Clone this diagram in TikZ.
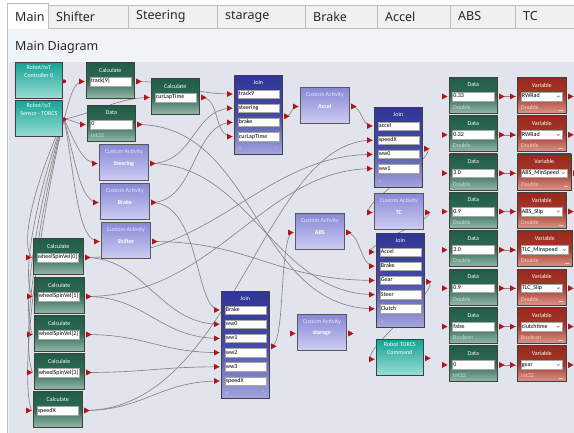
\documentclass[tikz,border=0pt]{standalone}
\usepackage{fontspec}
\setmainfont{Noto Sans}
\newfontfamily\blockfont{Carlito}
\usetikzlibrary{calc}

\definecolor{canvas}{HTML}{E1E4ED}
\definecolor{panel}{HTML}{F0F4F9}
\definecolor{tabgray}{HTML}{F0F0F0}
\definecolor{tabline}{HTML}{BDBDBD}
\definecolor{portred}{HTML}{B3141B}
\definecolor{wiregray}{HTML}{858585}
\definecolor{greentop}{HTML}{1F5C46}
\definecolor{greenbot}{HTML}{93B8A8}
\definecolor{greenlabel}{HTML}{C5DCD0}
\definecolor{redtop}{HTML}{98281A}
\definecolor{redbot}{HTML}{DC968A}
\definecolor{redlabel}{HTML}{F4CFC6}
\definecolor{bluetop}{HTML}{2E3596}
\definecolor{bluebot}{HTML}{A4A6DE}
\definecolor{lilactop}{HTML}{8888D6}
\definecolor{lilacbot}{HTML}{CCCCF3}
\definecolor{tealtop}{HTML}{13A395}
\definecolor{tealbot}{HTML}{9ADDD5}

\pgfdeclarelayer{back}
\pgfdeclarelayer{wires}
\pgfsetlayers{back,wires,main}

\tikzset{
  block/.style={draw=black!75, line width=0.6pt, anchor=north west,
    minimum width=48, minimum height=36, inner sep=0},
  calcfill/.style={top color=greentop, bottom color=greenbot, middle color=greentop!85!greenbot},
  varfill/.style={top color=redtop, bottom color=redbot, middle color=redtop!85!redbot},
  joinfill/.style={top color=bluetop, bottom color=bluebot, middle color=bluetop!80!bluebot},
  actfill/.style={top color=lilactop, bottom color=lilacbot, draw=black!65},
  robotfill/.style={top color=tealtop, bottom color=tealbot},
  blocktitle/.style={text=white, font=\blockfont\fontsize{6}{8}\selectfont, inner sep=0},
  acttitle/.style={text=white!90!blue, font=\blockfont\fontsize{6}{6}\selectfont, inner sep=0},
  actname/.style={text=white, font=\blockfont\fontsize{6}{6}\selectfont\bfseries, inner sep=0},
  field/.style={draw=black!35, line width=0.4pt, fill=white, anchor=west,
    minimum height=8.5, text width=39.5, inner xsep=1.2, inner ysep=0, align=left,
    text height=4.4, text depth=1.4, font=\blockfont\fontsize{6}{6}\selectfont},
  typelabel/.style={font=\blockfont\fontsize{6}{6}\selectfont, anchor=west, inner sep=0},
  joinmark/.style={text=white!80!blue, font=\blockfont\fontsize{6}{6}\selectfont, inner sep=0},
  tabtext/.style={font=\fontsize{12.5}{14}\selectfont, anchor=west, inner sep=0, text=black!85},
  wire/.style={draw=wiregray, line width=0.65pt},
  inport/.pic={\fill[portred] (-5.5,-3) -- (0,0) -- (-5.5,3) -- cycle;},
  outport/.pic={\fill[portred] (0,-3) -- (5.5,0) -- (0,3) -- cycle;},
}

% name, x, y, width, field
\newcommand{\calcblk}[5]{%
  \node[block, calcfill, minimum width=#4] (#1) at (#2,#3) {};
  \node[blocktitle] (#1-t) at ([yshift=-8]#1.north) {Calculate};
  \node[field] (#1-f) at ([xshift=3.5,yshift=-19.5]#1.north west) {#5};
  \coordinate (#1-i) at ($(#1.west |- #1-f)+(-1.5,0)$);
  \coordinate (#1-o) at ($(#1.east |- #1-f)+(1.5,0)$);}

% name, x, y, value, type
\newcommand{\datablk}[5]{%
  \node[block, calcfill] (#1) at (#2,#3) {};
  \node[blocktitle] (#1-t) at ([yshift=-8]#1.north) {Data};
  \node[field] (#1-f) at ([xshift=3,yshift=-19.5]#1.north west) {#4};
  \node[typelabel, text=greenlabel] (#1-k) at ([xshift=4,yshift=-30.5]#1.north west) {#5};
  \coordinate (#1-i) at ($(#1.west |- #1-f)+(-1.5,0)$);
  \coordinate (#1-o) at ($(#1.east |- #1-f)+(1.5,0)$);}

% name, y, width, combo text width, value, type
\newcommand{\varblk}[6]{%
  \node[block, varfill, minimum width=#3] (#1) at (517,#2) {};
  \node[blocktitle] (#1-t) at ([yshift=-8]#1.north) {Variable};
  \node[field, text width=#4] (#1-f) at ([xshift=3.5,yshift=-19.5]#1.north west) {#5};
  \draw[black!60, line width=0.4pt] ($(#1-f.east)+(-5.5,-0.8)$) -- ++(1.5,1.5) -- ++(1.5,-1.5);
  \node[typelabel, text=redlabel] (#1-k) at ([xshift=4,yshift=-30.5]#1.north west) {#6};
  \draw[redlabel, line width=0.5pt] ($(#1.north east)+(-8,33)$) -- ++(4,0);
  \coordinate (#1-i) at ($(#1.west |- #1-f)+(-1.5,0)$);
  \coordinate (#1-o) at ($(#1.east |- #1-f)+(1.5,0)$);}

% name, x, y, activity
\newcommand{\actblk}[4]{%
  \node[block, actfill, minimum width=49] (#1) at (#2,#3) {};
  \node[acttitle] (#1-t) at ([yshift=-7.5]#1.north) {Custom Activity};
  \node[actname] (#1-n) at ([yshift=-19.5]#1.north) {#4};
  \coordinate (#1-i) at ($(#1.west |- #1-n)+(-1.5,0)$);
  \coordinate (#1-o) at ($(#1.east |- #1-n)+(1.5,0)$);}

% name, x, y, first line, second line
\newcommand{\robotblk}[5]{%
  \node[block, robotfill, minimum width=47] (#1) at (#2,#3) {};
  \node[blocktitle, align=center, anchor=north] (#1-t) at ([yshift=-3]#1.north) {#4\\#5};
  \coordinate (#1-i) at ($(#1.west)+(-1.5,2)$);
  \coordinate (#1-o) at ($(#1.east)+(1.5,1)$);}

% name, x, y, height, inputs
\newcommand{\joinblk}[5]{%
  \node[block, joinfill, minimum height=#4] (#1) at (#2,#3) {};
  \node[blocktitle] (#1-t) at ([yshift=-7.5]#1.north) {Join};
  \foreach \f [count=\k] in {#5} {
    \node[field] (#1-\k) at ([xshift=3.5,yshift={-19-14.2*(\k-1)}]#1.north west) {\f};
    \coordinate (#1-\k-i) at ($(#1.west |- #1-\k)+(-1.5,0)$);
  }
  \node[joinmark] (#1-plus) at ([xshift=6,yshift=6]#1.south west) {+};
  \node[joinmark] (#1-minus) at ([xshift=-6,yshift=6]#1.south east) {-};
  \coordinate (#1-o) at ($(#1.east)+(1.5,1.5)$);}

\begin{document}
\begin{tikzpicture}[x=1pt, y=-1pt]
\useasboundingbox (0,0) rectangle (574,433);

% window, panel and canvas
\begin{pgfonlayer}{back}
  \fill[white] (0,0) rectangle (574,433);
  \fill[panel] (7,28) rectangle (574,433);
  \fill[canvas] (9,62) rectangle (574,433);
  \draw[tabline] (7,433) -- (7,28) -- (574,28);
\end{pgfonlayer}

% tab strip
\foreach \t/\a/\b in {Shifter/48/128, Steering/128/217, starage/217/305, Brake/305/377,
                      Accel/377/450, ABS/450/515, TC/515/574}{
  \draw[tabline, fill=tabgray] (\a,5) rectangle (\b,28);
  \node[tabtext] (tab-\t) at (\a+8,16.5) {\t};
}
\draw[tabline, fill=white] (7,29) -- (7,3) -- (48,3) -- (48,29);
\node[tabtext] (tab-Main) at (15,16.5) {Main};
\node[tabtext] (heading) at (15,47) {Main Diagram};

% blocks
\robotblk{ctl}{15}{62}{Robot/IoT}{Controller 0}
\robotblk{sens}{15}{100}{Robot/IoT}{Sensor - TORCS}
\calcblk{trk}{86}{62}{48}{track[9]}
\calcblk{lap}{151}{78}{48}{curLapTime}
\datablk{dat0}{87}{105}{0}{Int32}
\actblk{steer}{99}{144}{Steering}
\actblk{brake}{100}{183}{Brake}
\actblk{shift}{101}{222}{Shifter}
\calcblk{wsv0}{33}{238}{50}{wheelSpinVel[0]}
\calcblk{wsv1}{34}{277}{50}{wheelSpinVel[1]}
\calcblk{wsv2}{34}{315}{50}{wheelSpinVel[2]}
\calcblk{wsv3}{34}{353}{50}{wheelSpinVel[3]}
\calcblk{spd}{33}{391}{49}{speedX}
\joinblk{join1}{234}{75}{79}{track9,steering,brake,curLapTime}
\actblk{accel}{300}{87}{Accel}
\joinblk{join2}{374}{107}{80}{accel,speedX,ww0,ww1}
\actblk{tc}{374}{193}{TC}
\actblk{abs}{295}{213}{ABS}
\joinblk{join3}{376}{233}{94}{Accel,Brake,Gear,Steer,Clutch}
\actblk{store}{297}{314}{starage}
\robotblk{cmd}{376}{339}{Robot TORCS}{Command}
\joinblk{join4}{221}{291}{107}{Brake,ww0,ww1,ww2,ww3,speedX}

% constants and variables
\foreach \k/\val/\typ [evaluate=\k as \top using 77+38.35*(\k-1)] in
    {1/0.33/Double, 2/0.32/Double, 3/3.0/Double, 4/0.9/Double,
     5/3.0/Double, 6/0.9/Double, 7/false/Boolean, 8/0/Int32}
  \datablk{d\k}{449}{\top}{\val}{\typ};
\foreach \k/\w/\cw/\val/\typ [evaluate=\k as \top using 77+38.35*(\k-1)] in
    {1/49/39/RWRad/Double, 2/49/39/RWRad/Double, 3/54/44/ABS\_MinSpeed/Double,
     4/49/39/ABS\_Slip/Double, 5/55/45/TLC\_Minspeed/Double, 6/49/39/TLC\_Slip/Double,
     7/49/39/clutchtime/Boolean, 8/49/39/gear/Int32}
  \varblk{v\k}{\top}{\w}{\cw}{\val}{\typ};

% connections
\begin{pgfonlayer}{wires}
  % sensor fan-out
  \draw[wire] (sens-o) .. controls +(8,-30) and +(-10,0) .. (trk-i);
  \draw[wire] (sens-o) .. controls +(8,0) and +(-8,0) .. (dat0-i);
  \draw[wire] (sens-o) .. controls +(35,-8) and +(-30,0) .. (lap-i);
  \draw[wire] (sens-o) .. controls +(12,25) and +(-15,0) .. (steer-i);
  \draw[wire] (sens-o) .. controls +(12,45) and +(-18,0) .. (brake-i);
  \draw[wire] (sens-o) .. controls +(12,65) and +(-22,0) .. (shift-i);
  \foreach \w/\dy in {wsv0/40, wsv1/50, wsv2/60, wsv3/70, spd/80}
    \draw[wire] (sens-o) .. controls +(-20,\dy) and +(-14,-\dy/2) .. (\w-i);
  % first join
  \draw[wire] (trk-o) .. controls +(45,0) and +(-45,0) .. (join1-1-i);
  \draw[wire] (steer-o) .. controls +(45,0) and +(-40,0) .. (join1-2-i);
  \draw[wire] (brake-o) .. controls +(45,0) and +(-40,0) .. (join1-3-i);
  \draw[wire] (lap-o) .. controls +(20,0) and +(-20,0) .. (join1-4-i);
  \draw[wire] (join1-o) .. controls +(10,0) and +(-10,0) .. (accel-i);
  % second join
  \draw[wire] (accel-o) .. controls +(12,0) and +(-12,0) .. (join2-1-i);
  \draw[wire] (spd-o) .. controls +(150,0) and +(-110,0) .. (join2-2-i);
  \draw[wire] (wsv0-o) .. controls +(130,0) and +(-110,0) .. (join2-3-i);
  \draw[wire] (wsv1-o) .. controls +(130,0) and +(-110,0) .. (join2-4-i);
  \draw[wire] (join2-o) .. controls +(25,0) and +(-25,0) .. (tc-i);
  % third join
  \draw[wire] (tc-o) .. controls +(25,0) and +(-25,0) .. (join3-1-i);
  \draw[wire] (abs-o) .. controls +(15,0) and +(-15,0) .. (join3-2-i);
  \draw[wire] (shift-o) .. controls +(100,0) and +(-100,0) .. (join3-3-i);
  \draw[wire] (steer-o) .. controls +(100,0) and +(-100,0) .. (join3-4-i);
  \draw[wire] (dat0-o) .. controls +(120,0) and +(-120,0) .. (join3-5-i);
  \draw[wire] (join3-o) .. controls +(25,0) and +(-25,0) .. (cmd-i);
  % fourth join
  \draw[wire] (brake-o) .. controls +(50,0) and +(-25,0) .. (join4-1-i);
  \foreach \w [count=\k from 2] in {wsv0,wsv1,wsv2,wsv3,spd}
    \draw[wire] (\w-o) .. controls +(60,0) and +(-60,0) .. (join4-\k-i);
  \draw[wire] (join4-o) .. controls +(15,0) and +(-15,0) .. (abs-i);
  % data into variables
  \foreach \k in {1,...,8}
    \draw[wire] (d\k-o) -- (v\k-i);
\end{pgfonlayer}

% ports
\foreach \p in {trk,lap,dat0,steer,brake,shift,wsv0,wsv1,wsv2,wsv3,spd,accel,tc,abs,store,cmd}
  {\pic at (\p-i) {inport}; \pic at (\p-o) {outport};}
\foreach \k in {1,...,8}
  {\pic at (d\k-i) {inport}; \pic at (d\k-o) {outport};
   \pic at (v\k-i) {inport}; \pic at (v\k-o) {outport};}
\foreach \j/\n in {join1/4, join2/4, join3/5, join4/6}{
  \foreach \k in {1,...,\n} \pic at (\j-\k-i) {inport};
  \pic at (\j-o) {outport};}
\fill[portred] (ctl-o) circle (2);
\fill[portred] (sens-o) circle (2);
\end{tikzpicture}
\end{document}
